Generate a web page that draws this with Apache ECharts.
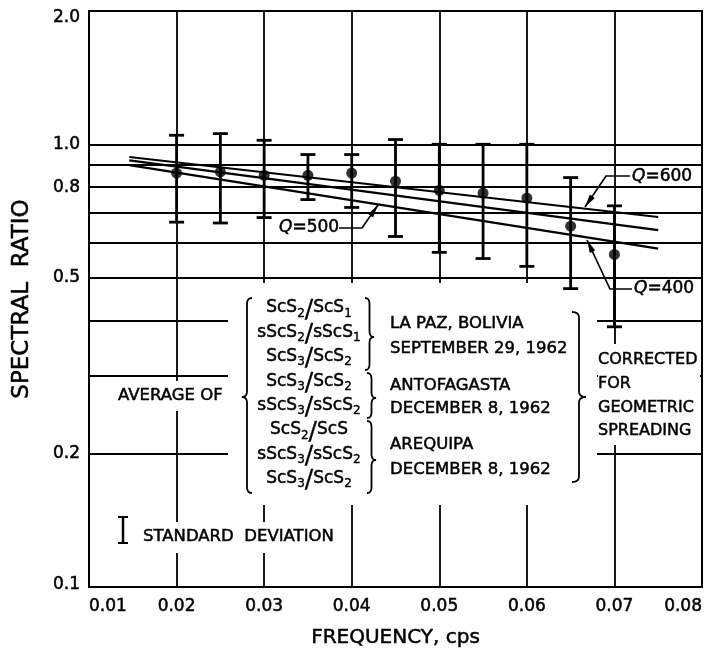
<!DOCTYPE html>
<html>
<head>
<meta charset="utf-8">
<script src="https://cdn.jsdelivr.net/npm/echarts@6/dist/echarts.min.js"></script>
<style>
  html, body { margin: 0; padding: 0; background: #fff; }
  #chart { width: 705px; height: 648px; }
</style>
</head>
<body>
<div id="chart"></div>
<script>
// averaged spectral ratios
var freq = [0.02, 0.025, 0.03, 0.035, 0.04, 0.045, 0.05, 0.055, 0.06, 0.065, 0.07];
var ratioMean = [0.861, 0.866, 0.851, 0.851, 0.861, 0.825, 0.787, 0.776, 0.756, 0.653, 0.564];
var ratioHigh = [1.048, 1.057, 1.021, 0.948, 0.948, 1.025, 1.0, 1.0, 1.0, 0.841, 0.726];
var ratioLow = [0.667, 0.664, 0.683, 0.750, 0.720, 0.619, 0.570, 0.552, 0.530, 0.472, 0.387];

// theoretical Q lines (end points)
var q600 = [[0.0146, 0.936], [0.075, 0.685]];
var q500 = [[0.0146, 0.920], [0.075, 0.640]];
var q400 = [[0.0146, 0.897], [0.075, 0.581]];

var yGridValues = [0.1, 0.2, 0.3, 0.4, 0.5, 0.6, 0.7, 0.8, 0.9, 1.0, 2.0];
var yLabelValues = [0.1, 0.2, 0.5, 0.8, 1.0, 2.0];

var FONT = '"DejaVu Sans", sans-serif';
var INK = '#000';

var chart = echarts.init(document.getElementById('chart'));

// curly brace as a polyline, dir -1 = tip to the left, +1 = tip to the right
function bracePoints(xBack, y1, y2, yTip, w, dir) {
  var xm = xBack + dir * w / 2, xt = xBack + dir * w, r = 6;
  var pts = [];
  function quad(p0, c, p1) {
    for (var t = 0; t <= 1.0001; t += 0.125) {
      var a = (1 - t) * (1 - t), b = 2 * (1 - t) * t, d = t * t;
      pts.push([a * p0[0] + b * c[0] + d * p1[0], a * p0[1] + b * c[1] + d * p1[1]]);
    }
  }
  quad([xBack, y1], [xm, y1], [xm, y1 + r]);
  quad([xm, yTip - r], [xm, yTip], [xt, yTip]);
  quad([xt, yTip], [xm, yTip], [xm, yTip + r]);
  quad([xm, y2 - r], [xm, y2], [xBack, y2]);
  return pts;
}

function brace(xBack, y1, y2, yTip, w, dir) {
  return {
    type: 'polyline', z: 10,
    shape: { points: bracePoints(xBack, y1, y2, yTip, w, dir) },
    style: { stroke: INK, lineWidth: 1.8, fill: null }
  };
}

// leader line with a filled arrow head at the last point
function leader(pts) {
  var n = pts.length, tip = pts[n - 1], from = pts[n - 2];
  var dx = tip[0] - from[0], dy = tip[1] - from[1], len = Math.sqrt(dx * dx + dy * dy);
  dx /= len; dy /= len;
  var hl = 13, hw = 3;
  var bx = tip[0] - dx * hl, by = tip[1] - dy * hl;
  return [
    { type: 'polyline', z: 10, shape: { points: pts }, style: { stroke: INK, lineWidth: 1.7, fill: null } },
    { type: 'polygon', z: 10, shape: { points: [tip, [bx - dy * hw, by + dx * hw], [bx + dy * hw, by - dx * hw]] },
      style: { fill: INK } }
  ];
}

function txt(x, y, text, align, size) {
  return {
    type: 'text', z: 10, x: x, y: y,
    style: {
      text: text, fill: INK, font: (size || 16.5) + 'px ' + FONT,
      stroke: INK, lineWidth: 0.5,
      align: align || 'left', verticalAlign: 'middle',
      rich: {
        s: { fontSize: 12, fontFamily: 'DejaVu Sans', padding: [11, 0, 0, 0], fill: INK, stroke: INK, lineWidth: 0.4 },
        sl: { fontSize: 25, fontFamily: 'DejaVu Sans', padding: [4, 0, 0, 0], fill: INK, stroke: INK, lineWidth: 0.3 },
        q: { fontSize: 17, fontFamily: 'DejaVu Sans', fontStyle: 'italic', fill: INK, stroke: INK, lineWidth: 0.5 }
      }
    }
  };
}

function whiteBox(x, y, w, h) {
  return { type: 'rect', z: 1, shape: { x: x, y: y, width: w, height: h }, style: { fill: '#fff' } };
}

var formulas = [
  'ScS{s|2}{sl|/}ScS{s|1}', 'sScS{s|2}{sl|/}sScS{s|1}', 'ScS{s|3}{sl|/}ScS{s|2}',
  'ScS{s|3}{sl|/}ScS{s|2}', 'sScS{s|3}{sl|/}sScS{s|2}',
  'ScS{s|2}{sl|/}ScS', 'sScS{s|3}{sl|/}sScS{s|2}', 'ScS{s|3}{sl|/}ScS{s|2}'
];

var graphics = [
  whiteBox(228, 283, 369, 222),
  whiteBox(598, 344, 102, 101),
  whiteBox(114, 381, 113, 30),
  whiteBox(112, 522, 233, 31),
  txt(118, 396, 'AVERAGE OF'),
  brace(252, 298, 493, 397, 10, -1),
  brace(365, 298, 370, 337, 9, 1),
  brace(367, 373, 418, 398, 9, 1),
  brace(367, 421, 493, 460, 9, 1),
  brace(572, 312, 482, 397, 14, 1),
  txt(390, 324, 'LA PAZ, BOLIVIA'),
  txt(390, 349, 'SEPTEMBER 29, 1962'),
  txt(390, 386, 'ANTOFAGASTA'),
  txt(390, 409, 'DECEMBER 8, 1962'),
  txt(390, 445, 'AREQUIPA'),
  txt(390, 470, 'DECEMBER 8, 1962'),
  txt(598, 360, 'CORRECTED', 'left', 16),
  txt(598, 384, 'FOR', 'left', 16),
  txt(598, 408, 'GEOMETRIC', 'left', 16),
  txt(598, 431, 'SPREADING', 'left', 16),
  txt(143, 537, 'STANDARD  DEVIATION'),
  // standard deviation key
  { type: 'polyline', z: 10, shape: { points: [[123, 517], [123, 543]] }, style: { stroke: INK, lineWidth: 2.5 } },
  { type: 'polyline', z: 10, shape: { points: [[118, 517], [128, 517]] }, style: { stroke: INK, lineWidth: 2 } },
  { type: 'polyline', z: 10, shape: { points: [[118, 543], [128, 543]] }, style: { stroke: INK, lineWidth: 2 } },
  txt(632, 177, '{q|Q}=600', 'left', 17),
  txt(634, 289, '{q|Q}=400', 'left', 17),
  txt(279, 228, '{q|Q}=500', 'left', 17)
];
formulas.forEach(function (f, i) {
  graphics.push(txt(309, 308 + i * 24.4, f, 'center', 17));
});
graphics = graphics.concat(
  leader([[630, 176], [606, 176], [585, 207]]),
  leader([[632, 289], [610, 289], [587, 240]]),
  leader([[339, 228], [362, 228], [378, 205]])
);

var labelStyle = {
  fontFamily: FONT, fontSize: 17, color: INK,
  textBorderColor: INK, textBorderWidth: 0.5
};

var option = {
  backgroundColor: '#fff',
  animation: false,
  grid: {
    left: 89, right: 3, top: 11, bottom: 61,
    outerBoundsMode: 'none', containLabel: false,
    show: true, borderColor: INK, borderWidth: 2
  },
  xAxis: {
    type: 'value', min: 0.01, max: 0.08, interval: 0.01,
    name: 'FREQUENCY, cps', nameLocation: 'middle', nameGap: 41,
    nameTextStyle: { fontFamily: FONT, fontSize: 20, color: INK, textBorderColor: INK, textBorderWidth: 0.5 },
    axisLine: { lineStyle: { color: INK, width: 2 } },
    axisTick: { show: false },
    axisLabel: Object.assign({}, labelStyle, {
      margin: 11,
      alignMinLabel: 'left', alignMaxLabel: 'right',
      formatter: function (v) { return v.toFixed(2); }
    }),
    splitLine: { show: true, lineStyle: { color: INK, width: 1.8 } }
  },
  yAxis: {
    type: 'log', logBase: 10, min: 0.1, max: 2.0,
    name: 'SPECTRAL  RATIO', nameLocation: 'middle', nameGap: 55,
    nameTextStyle: { fontFamily: FONT, fontSize: 23, color: INK, textBorderColor: INK, textBorderWidth: 0.5 },
    axisLine: { show: true, lineStyle: { color: INK, width: 2 } },
    axisTick: { show: false, customValues: yGridValues },
    axisLabel: Object.assign({}, labelStyle, {
      customValues: yLabelValues,
      margin: 9,
      formatter: function (v) {
        var s = v.toFixed(1);
        if (v > 1.5) return '{top|' + s + '}';
        if (v < 0.15) return '{bot|' + s + '}';
        return s;
      },
      rich: {
        top: { fontFamily: FONT, fontSize: 17, color: INK, textBorderColor: INK, textBorderWidth: 0.5, padding: [14, 0, 0, 0] },
        bot: { fontFamily: FONT, fontSize: 17, color: INK, textBorderColor: INK, textBorderWidth: 0.5, padding: [0, 0, 4, 0] }
      }
    }),
    splitLine: { show: true, lineStyle: { color: INK, width: 1.8 } }
  },
  series: [
    { type: 'line', data: q600, symbol: 'none', z: 3, lineStyle: { color: INK, width: 2.2 } },
    { type: 'line', data: q500, symbol: 'none', z: 3, lineStyle: { color: INK, width: 2.2 } },
    { type: 'line', data: q400, symbol: 'none', z: 3, lineStyle: { color: INK, width: 2.2 } },
    {
      type: 'custom', z: 4,
      data: freq.map(function (f, i) { return [f, ratioLow[i], ratioHigh[i]]; }),
      encode: { x: 0, y: [1, 2] },
      renderItem: function (params, api) {
        var x = api.value(0);
        var top = api.coord([x, api.value(2)]);
        var bot = api.coord([x, api.value(1)]);
        var w = 7.5;
        var st = { stroke: INK, lineWidth: 2.8 };
        return {
          type: 'group',
          children: [
            { type: 'line', shape: { x1: top[0], y1: top[1], x2: bot[0], y2: bot[1] }, style: st },
            { type: 'line', shape: { x1: top[0] - w, y1: top[1], x2: top[0] + w, y2: top[1] }, style: st },
            { type: 'line', shape: { x1: bot[0] - w, y1: bot[1], x2: bot[0] + w, y2: bot[1] }, style: st }
          ]
        };
      }
    },
    {
      type: 'scatter', z: 5, symbolSize: 11,
      itemStyle: { color: INK },
      data: freq.map(function (f, i) { return [f, ratioMean[i]]; })
    }
  ],
  graphic: graphics
};

chart.setOption(option);
</script>
</body>
</html>
